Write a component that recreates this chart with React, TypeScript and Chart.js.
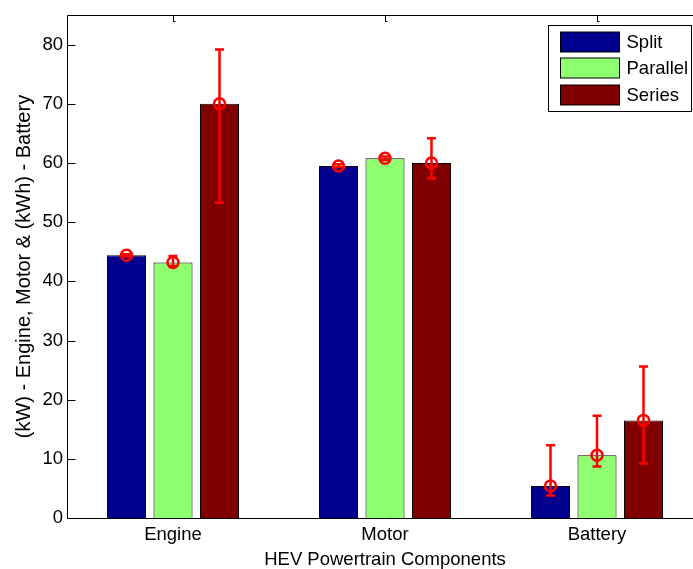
import React, { useEffect, useRef } from 'react';
import { Chart, registerables } from 'chart.js';

Chart.register(...registerables);

const categories = ['Engine', 'Motor', 'Battery'];
const seriesNames = ['Split', 'Parallel', 'Series'];
const splitValues = [44.4, 59.5, 5.4];
const parallelValues = [43.2, 60.8, 10.6];
const seriesValues = [70.0, 60.0, 16.5];
const splitLow = [44.2, 59.3, 3.8];
const splitHigh = [44.6, 59.8, 12.3];
const parallelLow = [42.6, 60.5, 8.7];
const parallelHigh = [44.3, 61.1, 17.3];
const seriesLow = [53.3, 57.4, 9.2];
const seriesHigh = [79.2, 64.2, 25.6];
const yTicks = [0, 10, 20, 30, 40, 50, 60, 70, 80];
const yMax = 85;
const barColors = ['#00008F', '#8FFF70', '#800000'];

const FONT = "'Liberation Sans', Arial, Helvetica, sans-serif";

export default function App() {
  const ref = useRef<HTMLCanvasElement>(null);

  useEffect(() => {
    const canvas = ref.current!;
    const values = [splitValues, parallelValues, seriesValues];
    const lows = [splitLow, parallelLow, seriesLow];
    const highs = [splitHigh, parallelHigh, seriesHigh];

    const axesBehind = {
      id: 'axesBehind',
      beforeDatasetsDraw(chart: any) {
        const { ctx, chartArea, scales } = chart;
        ctx.save();
        ctx.strokeStyle = '#000';
        ctx.lineWidth = 1;
        // bottom category ticks (hidden behind bars as in the reference)
        categories.forEach((_, i) => {
          const x = Math.round(scales.x.getPixelForValue(i)) + 0.5;
          ctx.beginPath();
          ctx.moveTo(x, chartArea.bottom);
          ctx.lineTo(x, chartArea.bottom - 6);
          ctx.stroke();
        });
        ctx.restore();
      },
    };

    const axesFront = {
      id: 'axesFront',
      afterDatasetsDraw(chart: any) {
        const { ctx, chartArea, scales } = chart;
        const l = Math.round(chartArea.left) + 0.5;
        const r = Math.round(chartArea.right) + 0.5;
        const t = Math.round(chartArea.top) + 0.5;
        const b = Math.round(chartArea.bottom) + 0.5;
        ctx.save();
        ctx.strokeStyle = '#000';
        ctx.lineWidth = 1;
        ctx.beginPath();
        ctx.moveTo(l, t);
        ctx.lineTo(r, t);
        ctx.lineTo(r, b);
        ctx.lineTo(l, b);
        ctx.closePath();
        ctx.stroke();
        // y ticks inside
        yTicks.forEach((v) => {
          const y = Math.round(scales.y.getPixelForValue(v)) + 0.5;
          ctx.beginPath();
          ctx.moveTo(l, y);
          ctx.lineTo(l + 8, y);
          ctx.moveTo(r, y);
          ctx.lineTo(r - 8, y);
          ctx.stroke();
        });
        // top category ticks
        categories.forEach((_, i) => {
          const x = Math.round(scales.x.getPixelForValue(i)) + 0.5;
          ctx.beginPath();
          ctx.moveTo(x, t);
          ctx.lineTo(x, t + 6);
          ctx.lineTo(x + 2, t + 6);
          ctx.stroke();
        });
        ctx.restore();

        // error bars with circle markers
        ctx.save();
        ctx.strokeStyle = '#FF0000';
        ctx.lineWidth = 2.5;
        values.forEach((vals, di) => {
          const meta = chart.getDatasetMeta(di);
          vals.forEach((v, j) => {
            const x = meta.data[j].x;
            const yv = scales.y.getPixelForValue(v);
            const yl = scales.y.getPixelForValue(lows[di][j]);
            const yh = scales.y.getPixelForValue(highs[di][j]);
            ctx.beginPath();
            ctx.moveTo(x, yl);
            ctx.lineTo(x, yh);
            ctx.moveTo(x - 4.5, yl);
            ctx.lineTo(x + 4.5, yl);
            ctx.moveTo(x - 4.5, yh);
            ctx.lineTo(x + 4.5, yh);
            ctx.stroke();
            ctx.beginPath();
            ctx.arc(x, yv, 5.5, 0, Math.PI * 2);
            ctx.stroke();
          });
        });
        ctx.restore();
      },
    };

    const boxLegend = {
      id: 'boxLegend',
      afterDraw(chart: any) {
        const { ctx, chartArea } = chart;
        const bx = Math.round(chartArea.right - 155) + 0.5;
        const by = Math.round(chartArea.top + 10) + 0.5;
        const bw = 143;
        const bh = 86;
        ctx.save();
        ctx.fillStyle = '#fff';
        ctx.fillRect(bx, by, bw, bh);
        ctx.strokeStyle = '#000';
        ctx.lineWidth = 1;
        ctx.strokeRect(bx, by, bw, bh);
        ctx.font = `18.5px ${FONT}`;
        ctx.textBaseline = 'middle';
        ctx.textAlign = 'left';
        seriesNames.forEach((name, i) => {
          const sy = by + 6 + i * 26.5;
          ctx.fillStyle = barColors[i];
          ctx.fillRect(bx + 12, Math.round(sy), 59, 20);
          ctx.strokeStyle = '#000';
          ctx.strokeRect(bx + 12, Math.round(sy), 59, 20);
          ctx.fillStyle = '#000';
          ctx.fillText(name, bx + 78, Math.round(sy) + 10.5);
        });
        ctx.restore();
      },
    };

    const chart = new Chart(canvas, {
      type: 'bar',
      data: {
        labels: categories,
        datasets: values.map((vals, i) => ({
          label: seriesNames[i],
          data: vals,
          backgroundColor: barColors[i],
          borderColor: '#000',
          borderWidth: 1,
          categoryPercentage: 0.658,
          barPercentage: 0.84,
        })),
      },
      options: {
        responsive: false,
        animation: false,
        devicePixelRatio: 1,
        font: { family: FONT },
        layout: { padding: { left: 0, top: 15, right: 9, bottom: 0 } },
        plugins: { legend: { display: false }, tooltip: { enabled: false } },
        scales: {
          x: {
            grid: { display: false, drawTicks: false },
            border: { display: false },
            ticks: { color: '#000', font: { size: 18.5, family: FONT }, padding: 6 },
            title: {
              display: true,
              text: 'HEV Powertrain Components',
              color: '#000',
              font: { size: 18.5, family: FONT },
              padding: { top: 0, bottom: 4 },
            },
            afterFit: (s: any) => {
              s.height = 57;
            },
          },
          y: {
            min: 0,
            max: yMax,
            afterBuildTicks: (s: any) => {
              s.ticks = yTicks.map((v) => ({ value: v }));
            },
            grid: { display: false, drawTicks: false },
            border: { display: false },
            ticks: { color: '#000', font: { size: 18.5, family: FONT }, padding: 4 },
            title: {
              display: true,
              text: '(kW) - Engine, Motor & (kWh) - Battery',
              color: '#000',
              font: { size: 20, family: FONT },
              padding: { top: 12, bottom: 0 },
            },
            afterFit: (s: any) => {
              s.width = 67;
            },
          },
        },
      } as any,
      plugins: [axesBehind, axesFront, boxLegend],
    });
    return () => chart.destroy();
  }, []);

  return (
    <div
      style={{
        position: 'fixed',
        left: 0,
        top: 0,
        width: 693,
        height: 569,
        overflow: 'hidden',
        background: '#fff',
      }}
    >
      <canvas ref={ref} width={712} height={575} style={{ display: 'block' }} />
    </div>
  );
}
